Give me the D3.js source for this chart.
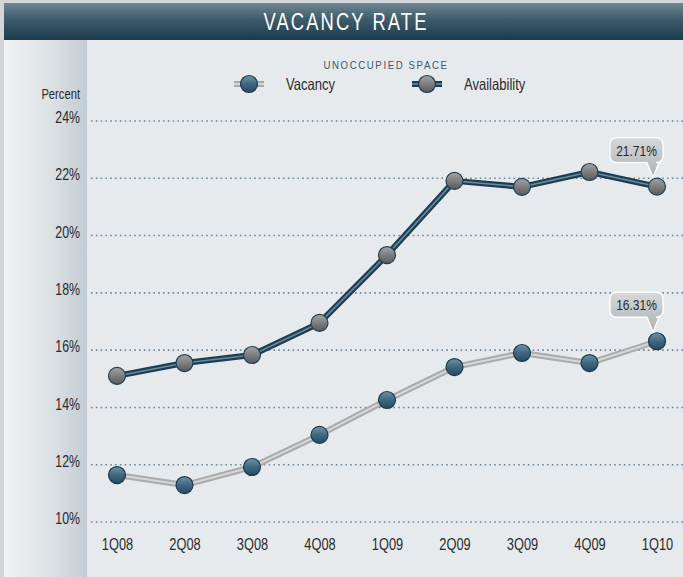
<!DOCTYPE html>
<html><head><meta charset="utf-8">
<script src="https://cdn.jsdelivr.net/npm/d3@7"></script>
<style>
html,body{margin:0;padding:0;background:#d3d6d8;}
svg{display:block;}
text{font-family:"Liberation Sans",Arial,sans-serif;}
</style></head>
<body>
<svg id="chart" width="683" height="577"></svg>
<script>
const categories = ["1Q08","2Q08","3Q08","4Q08","1Q09","2Q09","3Q09","4Q09","1Q10"];
const vacancy = [11.64, 11.29, 11.92, 13.04, 14.26, 15.41, 15.90, 15.55, 16.31];
const availability = [15.10, 15.55, 15.83, 16.95, 19.32, 21.91, 21.70, 22.22, 21.71];
const yTicks = [10, 12, 14, 16, 18, 20, 22, 24];
const title = "VACANCY RATE";
const legendTitle = "UNOCCUPIED SPACE";
const seriesNames = ["Vacancy", "Availability"];

const svg = d3.select("#chart");
const W = 683, H = 577;
const defs = svg.append("defs");

// horizontally condense text to mimic a condensed typeface
function condense(sel, f){
  sel.each(function(){
    const len = this.getComputedTextLength();
    d3.select(this).attr("textLength", len * f).attr("lengthAdjust", "spacingAndGlyphs");
  });
}

function lin(id, x2, y2, stops){
  const g = defs.append("linearGradient").attr("id", id).attr("x1",0).attr("y1",0).attr("x2",x2).attr("y2",y2);
  stops.forEach(s => g.append("stop").attr("offset", s[0]).attr("stop-color", s[1]));
}
lin("gTitle", 0, 1, [[0,"#6f8792"],[0.45,"#3d5b6b"],[1,"#1c3a4c"]]);
lin("gGutter", 1, 0, [[0,"#f0f2f3"],[0.55,"#dde2e5"],[1,"#c4ccd3"]]);
lin("gVac", 0, 1, [[0,"#6f93a6"],[0.5,"#3f6880"],[1,"#244a60"]]);
lin("gAvl", 0, 1, [[0,"#a4a5a7"],[0.5,"#7d7e80"],[1,"#58595b"]]);
lin("gCall", 0, 1, [[0,"#d6d8da"],[1,"#aeb1b4"]]);

// background panels
svg.append("rect").attr("x",0).attr("y",0).attr("width",W).attr("height",H).attr("fill","#d3d6d8");
svg.append("rect").attr("x",4).attr("y",40).attr("width",W-4).attr("height",H-40).attr("fill","#e6eaed");
svg.append("rect").attr("x",4).attr("y",40).attr("width",83).attr("height",H-40).attr("fill","url(#gGutter)");
svg.append("rect").attr("x",4).attr("y",3).attr("width",W-4).attr("height",37).attr("fill","url(#gTitle)");
svg.append("text").attr("x",346).attr("y",30).attr("text-anchor","middle")
  .attr("fill","#ffffff").attr("font-size",23).attr("letter-spacing",2.6).text(title)
  .call(condense, 0.8);

const x = d3.scalePoint().domain(categories).range([117, 657]);
const y = d3.scaleLinear().domain([10, 24]).range([522, 121]);

// gridlines
svg.append("g").selectAll("line").data(yTicks).join("line")
  .attr("x1", 91).attr("x2", W).attr("y1", d => y(d)).attr("y2", d => y(d))
  .attr("stroke","#6f8898").attr("stroke-width",1.6).attr("stroke-dasharray","1.6 3.2").attr("stroke-linecap","butt");

// y axis
const yAxis = d3.axisLeft(y).tickValues(yTicks).tickFormat(d => d + "%").tickSize(0).tickPadding(0);
const gy = svg.append("g").attr("transform","translate(80,0)").call(yAxis);
gy.select(".domain").remove();
gy.selectAll("text").attr("font-size",16).attr("fill","#2a2a2a")
  .style("font-family",'"Liberation Sans",Arial,sans-serif').attr("dy","0.1em")
  .call(condense, 0.77);
svg.append("text").attr("x",80).attr("y",99).attr("text-anchor","end").attr("font-size",14).attr("fill","#2a2a2a").text("Percent")
  .call(condense, 0.8);

// x axis
const xAxis = d3.axisBottom(x).tickSize(0).tickPadding(0);
const gx = svg.append("g").attr("transform","translate(0,539)").call(xAxis);
gx.select(".domain").remove();
gx.selectAll("text").attr("font-size",16).attr("fill","#2a2a2a")
  .style("font-family",'"Liberation Sans",Arial,sans-serif')
  .call(condense, 0.8);

const line = d3.line().x((d,i) => x(categories[i])).y(d => y(d));

// vacancy line
svg.append("path").datum(vacancy).attr("d", line).attr("fill","none").attr("stroke","#a8aaac").attr("stroke-width",6).attr("stroke-linejoin","round");
svg.append("path").datum(vacancy).attr("d", line).attr("fill","none").attr("stroke","#d6d7d8").attr("stroke-width",2).attr("stroke-linejoin","round");
// availability line
svg.append("path").datum(availability).attr("d", line).attr("fill","none").attr("stroke","#1d3d53").attr("stroke-width",6).attr("stroke-linejoin","round");
svg.append("path").datum(availability).attr("d", line).attr("fill","none").attr("stroke","#6a8a9c").attr("stroke-width",1.6).attr("stroke-linejoin","round");

svg.append("g").selectAll("circle").data(vacancy).join("circle")
  .attr("cx",(d,i)=>x(categories[i])).attr("cy",d=>y(d)).attr("r",8.5)
  .attr("fill","url(#gVac)").attr("stroke","#1c3a4d").attr("stroke-width",1.2);
svg.append("g").selectAll("circle").data(availability).join("circle")
  .attr("cx",(d,i)=>x(categories[i])).attr("cy",d=>y(d)).attr("r",8.5)
  .attr("fill","url(#gAvl)").attr("stroke","#1f3e53").attr("stroke-width",1.2);

// callouts on last points
function callout(val){
  const px = x(categories[categories.length-1]), py = y(val);
  const bw = 53, bh = 25, bx = px - 47, by = py - 49;
  const tipX = px - 4, tipY = py - 9;
  const r = 7;
  const p = `M${bx+r},${by} H${bx+bw-r} Q${bx+bw},${by} ${bx+bw},${by+r} V${by+bh-r} Q${bx+bw},${by+bh} ${bx+bw-r},${by+bh}
    H${px+2} L${tipX},${tipY} L${px-10},${by+bh} H${bx+r} Q${bx},${by+bh} ${bx},${by+bh-r} V${by+r} Q${bx},${by} ${bx+r},${by} Z`;
  svg.append("path").attr("d",p).attr("fill","url(#gCall)").attr("stroke","#ffffff").attr("stroke-width",1.3);
  svg.append("text").attr("x",bx+bw/2).attr("y",by+18).attr("text-anchor","middle")
    .attr("font-size",15).attr("fill","#2a2a2a").text(val.toFixed(2)+"%")
    .call(condense, 0.8);
}
callout(availability[availability.length-1]);
callout(vacancy[vacancy.length-1]);

// legend
svg.append("text").attr("x",386).attr("y",69).attr("text-anchor","middle").attr("font-size",11.5)
  .attr("letter-spacing",1.9).attr("fill","#3d5869").text(legendTitle)
  .call(condense, 0.84);
function legendItem(lx, ly, outer, inner, fill, innerW, label){
  const g = svg.append("g");
  g.append("line").attr("x1",lx).attr("x2",lx+30).attr("y1",ly).attr("y2",ly).attr("stroke",outer).attr("stroke-width",6);
  g.append("line").attr("x1",lx).attr("x2",lx+30).attr("y1",ly).attr("y2",ly).attr("stroke",inner).attr("stroke-width",innerW);
  g.append("circle").attr("cx",lx+15).attr("cy",ly).attr("r",8.5).attr("fill",fill).attr("stroke","#1c3a4d").attr("stroke-width",1.2);
  g.append("text").attr("x",lx+52).attr("y",ly+6).attr("font-size",16.5).attr("fill","#2a2a2a").text(label)
    .call(condense, 0.79);
}
legendItem(234, 84, "#a8aaac", "#d6d7d8", "url(#gVac)", 2, seriesNames[0]);
legendItem(412, 84, "#1d3d53", "#6a8a9c", "url(#gAvl)", 1.6, seriesNames[1]);
</script>
</body></html>
